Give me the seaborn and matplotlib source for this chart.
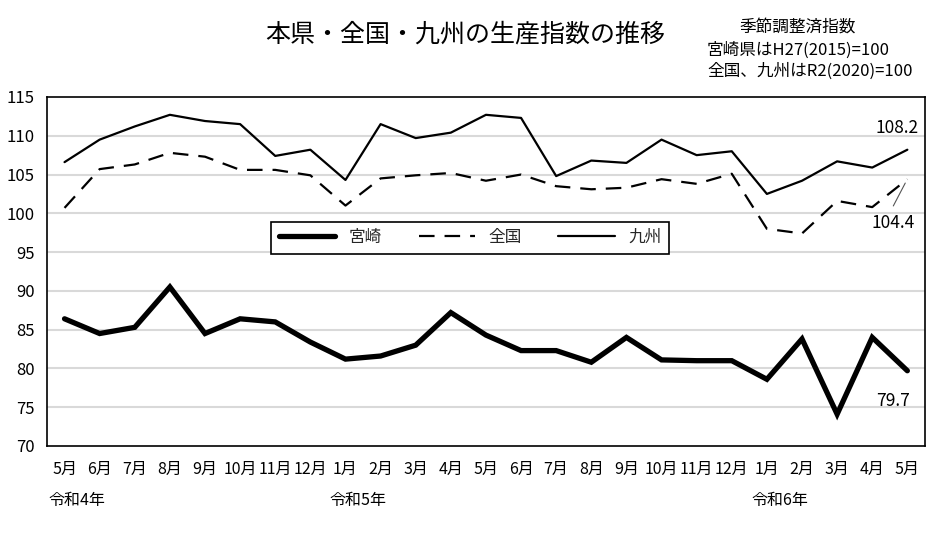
import numpy as np
import pandas as pd
import matplotlib
matplotlib.use("Agg")
import matplotlib.pyplot as plt
import seaborn as sns

months = ["5月", "6月", "7月", "8月", "9月", "10月", "11月", "12月", "1月", "2月", "3月", "4月",
          "5月", "6月", "7月", "8月", "9月", "10月", "11月", "12月", "1月", "2月", "3月", "4月", "5月"]
miyazaki = [86.4, 84.5, 85.3, 90.5, 84.5, 86.4, 86.0, 83.4, 81.2, 81.6, 83.0, 87.2,
            84.3, 82.3, 82.3, 80.8, 84.0, 81.1, 81.0, 81.0, 78.6, 83.8, 74.1, 84.0, 79.7]
zenkoku = [100.7, 105.7, 106.3, 107.8, 107.3, 105.6, 105.6, 104.9, 101.0, 104.5, 104.9, 105.2,
           104.2, 105.0, 103.5, 103.1, 103.3, 104.4, 103.8, 105.1, 98.0, 97.4, 101.6, 100.8, 104.4]
kyushu = [106.6, 109.5, 111.2, 112.7, 111.9, 111.5, 107.4, 108.2, 104.3, 111.5, 109.7, 110.4,
          112.7, 112.3, 104.8, 106.8, 106.5, 109.5, 107.5, 108.0, 102.5, 104.2, 106.7, 105.9, 108.2]
year_labels = ["令和4年", "令和5年", "令和6年"]
year_start = [0, 8, 20]

sns.set_theme(style="white")
plt.rcParams["font.family"] = ["Noto Sans CJK JP", "DejaVu Sans"]

df = pd.DataFrame({"idx": np.arange(len(months)), "宮崎": miyazaki, "全国": zenkoku, "九州": kyushu})

fig = plt.figure(figsize=(9.32, 5.34), dpi=100)
ax = fig.add_axes([0.0504, 0.1648, 0.942, 0.6536])

# grid first so lines sit on top
for v in range(75, 115, 5):
    ax.axhline(v, color="#d9d9d9", lw=1.5, zorder=0)

sns.lineplot(data=df, x="idx", y="宮崎", ax=ax, color="black", lw=3.8, label="宮崎",
             solid_capstyle="round", solid_joinstyle="miter")
sns.lineplot(data=df, x="idx", y="全国", ax=ax, color="black", lw=1.6, label="全国",
             linestyle=(0, (7, 4.5)))
sns.lineplot(data=df, x="idx", y="九州", ax=ax, color="black", lw=1.6, label="九州")

ax.set_xlim(-0.5, len(months) - 0.5)
ax.set_ylim(70, 115)
ax.set_yticks(range(70, 116, 5))
ax.set_xticks(df["idx"])
ax.set_xticklabels(months)
ax.tick_params(axis="x", length=0, pad=11, labelsize=11.5, labelcolor="black")
ax.tick_params(axis="y", length=0, pad=9, labelsize=12, labelcolor="black")
ax.set_xlabel("")
ax.set_ylabel("")
for s in ax.spines.values():
    s.set_color("black")
    s.set_linewidth(1.2)

for lab, i in zip(year_labels, year_start):
    ax.text(i - 0.45, -0.155, lab, transform=ax.get_xaxis_transform(),
            ha="left", va="center", fontsize=11.5, color="black")

# last-value annotations
ax.text(23.7, 111.0, f"{kyushu[-1]:.1f}", ha="center", va="center", fontsize=12.5, color="black")
ax.text(23.6, 98.8, f"{zenkoku[-1]:.1f}", ha="center", va="center", fontsize=12.5, color="black")
ax.plot([23.6, 23.94], [100.95, 103.9], color="#555555", lw=0.8)
ax.text(23.58, 75.8, f"{miyazaki[-1]:.1f}", ha="center", va="center", fontsize=12.5, color="black")

leg = ax.legend(loc="center", bbox_to_anchor=(0.482, 0.597), ncol=3, fontsize=12,
                frameon=True, fancybox=False, handlelength=3.4, columnspacing=2.2,
                borderpad=0.45, framealpha=1)
leg.get_frame().set_edgecolor("black")
leg.get_frame().set_linewidth(1.2)

fig.text(465 / 932, 1 - 34 / 534, "本県・全国・九州の生産指数の推移", ha="center", va="center",
         fontsize=18, color="black")
fig.text(798 / 932, 1 - 28 / 534, "季節調整済指数", ha="center", va="center", fontsize=12, color="black")
fig.text(707 / 932, 1 - 50 / 534, "宮崎県はH27(2015)=100", ha="left", va="center", fontsize=12, color="black")
fig.text(707 / 932, 1 - 71 / 534, "全国、九州はR2(2020)=100", ha="left", va="center", fontsize=12, color="black")

fig.savefig("out.png", dpi=100)
